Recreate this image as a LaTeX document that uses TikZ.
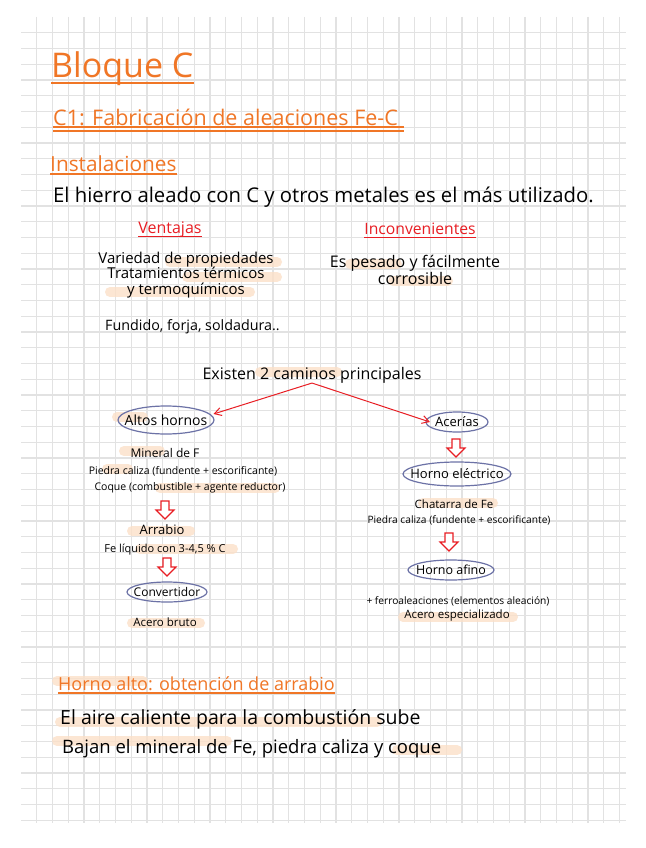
\documentclass[tikz,border=0pt]{standalone}
\usepackage{fontspec}
\setmainfont{Open Sans}
\usetikzlibrary{arrows.meta}
\definecolor{naranja}{RGB}{240,118,38}
\definecolor{rojo}{RGB}{232,30,36}
\definecolor{lila}{RGB}{108,114,166}
\definecolor{resalte}{RGB}{252,224,200}
\definecolor{gris}{RGB}{226,226,226}
\newcommand{\fs}[2]{\fontsize{#1}{#2}\selectfont}

\begin{document}
\begin{tikzpicture}[
        x=1pt, y=-1pt,
        cuadro/.style = {draw=gris, line width=1.2pt},
        titulo/.style = {text=naranja, inner sep=0pt},
        txt/.style = {inner sep=0pt, align=center},
        rojotxt/.style = {text=rojo, inner sep=0pt},
        aro/.style = {draw=lila, line width=1.2pt},
        uline/.style = {draw=naranja, line width=1.4pt},
        rline/.style = {draw=rojo, line width=1.2pt},
        flecha/.style = {draw=rojo, line width=1pt, -{Straight Barb[length=2.4mm, width=2.8mm]}},
        resal/.style = {draw=resalte, line width=10pt, line cap=round, opacity=.8},
        pics/bajada/.style = {code={
            \draw[rojo, line width=1.1pt, fill=white, line join=miter]
                (-4,0) -- (4,0) -- (4,9) -- (9,9) -- (0,18) -- (-9,9) -- (-4,9) -- cycle;}},
    ]
    \useasboundingbox[fill=white] (0,0) rectangle (645,848);

    % cuadricula
    \foreach \i in {0,...,37}
        \draw[cuadro] ({36.7+15.75*\i},17) -- ({36.7+15.75*\i},823);
    \foreach \j in {0,...,50}
        \draw[cuadro] (21,{32.7+15.75*\j}) -- (626,{32.7+15.75*\j});

    % resaltados
    \draw[resal] (170,262) -- (277,262);
    \draw[resal] (187,277) -- (277,277);
    \draw[resal] (110,292) -- (250,292);
    \draw[resal] (350,264) -- (397,264);
    \draw[resal] (393,281) -- (448,281);
    \draw[resal] (260,372) -- (337,372);
    \draw[resal] (117,417) -- (143,417);
    \draw[resal] (124,451) -- (160,451);
    \draw[resal] (107,469) -- (128,469);
    \draw[resal] (160,488) -- (275,488);
    \draw[resal] (132,531) -- (190,531);
    \draw[resal] (140,549) -- (233,549);
    \draw[resal] (132,623) -- (200,623);
    \draw[resal] (423,503) -- (493,503);
    \draw[resal] (403,617) -- (513,617);
    \draw[resal] (57,681) -- (143,681);
    \draw[resal] (60,722) -- (377,722);
    \draw[resal] (57,741) -- (227,741);
    \draw[resal] (397,750) -- (457,750);

    % titulos
    \node[titulo, font=\fs{34}{38}, anchor=base west] (bloque) at (51,78) {Bloque C};
    \node[titulo, font=\fs{21.5}{24}, anchor=base west] (cuno) at (53,125) {C1: Fabricación de aleaciones Fe-C};
    \node[titulo, font=\fs{20.8}{23}, anchor=base west] (inst) at (50,171) {Instalaciones};
    \draw[uline, line width=2.5pt] ([yshift=-5pt]bloque.base west) -- ([yshift=-5pt]bloque.base east);
    \draw[uline] ([yshift=-2pt]cuno.base west) -- ([shift={(6pt,-2pt)}]cuno.base east);
    \draw[uline] ([yshift=-6pt]cuno.base west) -- ([shift={(6pt,-6pt)}]cuno.base east);
    \draw[uline] ([yshift=-3pt]inst.base west) -- ([yshift=-3pt]inst.base east);

    \node[txt, font=\fs{20.3}{22}, anchor=base west] (intro) at (53,202) {El hierro aleado con C y otros metales es el más utilizado.};

    % ventajas / inconvenientes
    \node[rojotxt, font=\fs{16}{18}, anchor=base] (vent) at (170,233) {Ventajas};
    \node[rojotxt, font=\fs{15.7}{18}, anchor=base] (incon) at (420,234) {Inconvenientes};
    \draw[rline] ([yshift=-3.5pt]vent.base west) -- ([yshift=-3.5pt]vent.base east);
    \draw[rline] ([yshift=-3.5pt]incon.base west) -- ([yshift=-3.5pt]incon.base east);
    \node[txt, font=\fs{15}{15.5}] (props) at (186,275) {Variedad de propiedades\\Tratamientos térmicos\\y termoquímicos};
    \node[txt, font=\fs{14.3}{16}, anchor=base west] (fundido) at (105,330) {Fundido, forja, soldadura..};
    \node[txt, font=\fs{16}{13}] (pesado) at (415,270) {Es pesado y fácilmente\\corrosible};

    % caminos
    \node[txt, font=\fs{16}{18}, anchor=base] (camino) at (312,379) {Existen 2 caminos principales};
    \node[txt, font=\fs{14}{16}] (altos) at (166,420) {Altos hornos};
    \node[txt, font=\fs{13}{15}] (acer) at (457,422) {Acerías};
    \draw[aro] (altos) ellipse [x radius=48pt, y radius=14pt];
    \draw[aro] (acer) ellipse [x radius=31pt, y radius=10pt];
    \draw[flecha] (camino.south) -- ([shift={(6pt,6pt)}]altos.east);
    \draw[flecha] (camino.south) -- ([xshift=-5pt]acer.west);

    % altos hornos
    \node[txt, font=\fs{12}{14}, anchor=base] (mineral) at (165,457) {Mineral de F};
    \node[txt, font=\fs{10.5}{12}, anchor=base] (piedra) at (183,474) {Piedra caliza (fundente + escorificante)};
    \node[txt, font=\fs{10.5}{12}, anchor=base] (coque) at (190,490) {Coque (combustible + agente reductor)};
    \pic at (165,501) {bajada};
    \node[txt, font=\fs{13}{15}, anchor=base] (arrabio) at (162,534) {Arrabio};
    \node[txt, font=\fs{11}{13}, anchor=base] (feliq) at (165,552) {Fe líquido con 3-4,5 \% C};
    \pic at (167,558) {bajada};
    \node[txt, font=\fs{12}{14}] (conv) at (167,592) {Convertidor};
    \draw[aro] (conv) ellipse [x radius=40pt, y radius=10pt];
    \node[txt, font=\fs{11.5}{13}, anchor=base] (bruto) at (165,626) {Acero bruto};

    % acerias
    \pic at (456,439) {bajada};
    \node[txt, font=\fs{13}{15}] (helec) at (457,474) {Horno eléctrico};
    \draw[aro] (helec) ellipse [x radius=54pt, y radius=12pt];
    \node[txt, font=\fs{11.5}{13}, anchor=base] (chatarra) at (454,508) {Chatarra de Fe};
    \node[txt, font=\fs{10.2}{12}, anchor=base] (piedrab) at (459,523) {Piedra caliza (fundente + escorificante)};
    \pic at (449,533) {bajada};
    \node[txt, font=\fs{12.5}{14}] (afino) at (451,570) {Horno afino};
    \draw[aro] (afino) ellipse [x radius=43pt, y radius=10pt];
    \node[txt, font=\fs{10.2}{12}, anchor=base] (ferro) at (458,604) {+ ferroaleaciones (elementos aleación)};
    \node[txt, font=\fs{11.5}{13}, anchor=base] (especial) at (457,618) {Acero especializado};

    % horno alto
    \node[titulo, font=\fs{18}{20}, anchor=base west] (hornoalto) at (58,690) {Horno alto: obtención de arrabio};
    \draw[uline] ([yshift=-3pt]hornoalto.base west) -- ([yshift=-3pt]hornoalto.base east);
    \node[txt, font=\fs{19.5}{21}, anchor=base west] (aire) at (60,724) {El aire caliente para la combustión sube};
    \node[txt, font=\fs{18.5}{20}, anchor=base west] (bajan) at (62,753) {Bajan el mineral de Fe, piedra caliza y coque};
\end{tikzpicture}
\end{document}
